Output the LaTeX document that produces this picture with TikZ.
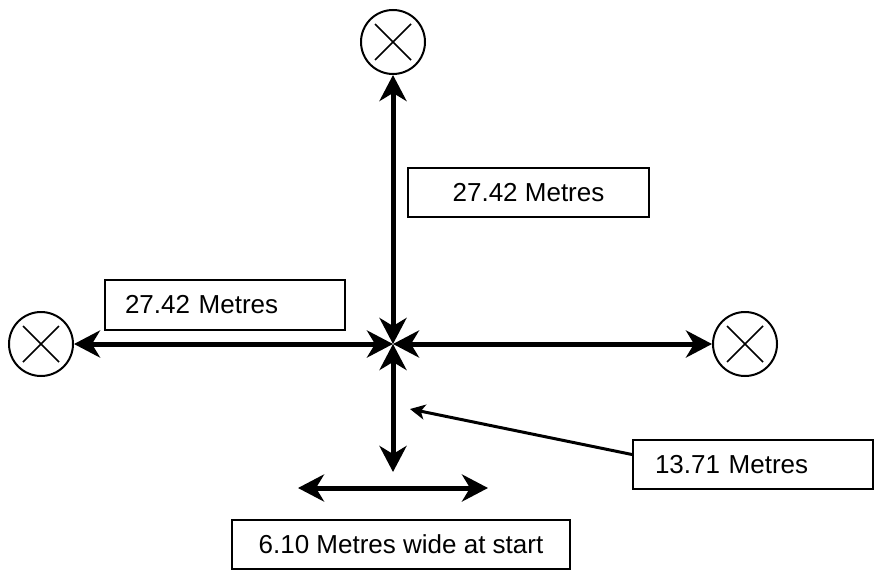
\documentclass[tikz,border=0pt]{standalone}
\usepackage{fontspec}
\setmainfont{Liberation Sans}
\usetikzlibrary{arrows.meta,calc}
\tikzset{
  target/.style={circle, draw, line width=2pt, minimum size=64pt, inner sep=0pt,
    path picture={\draw[line width=1.6pt]
      ([shift={(-18pt,-18pt)}]path picture bounding box.center) -- ([shift={(18pt,18pt)}]path picture bounding box.center)
      ([shift={(-18pt,18pt)}]path picture bounding box.center) -- ([shift={(18pt,-18pt)}]path picture bounding box.center);}},
  label box/.style={draw, line width=2pt, inner sep=0pt, minimum height=49pt,
    font=\fontsize{26pt}{31pt}\selectfont},
  bigarrow/.style={line width=5pt, {Stealth[length=26pt,width=27pt,inset=8pt]}-{Stealth[length=26pt,width=27pt,inset=8pt]}},
  pointer/.style={line width=3pt, -{Stealth[length=15pt,width=15pt,inset=4pt]}}
}
\begin{document}
\begin{tikzpicture}[x=1pt,y=-1pt]
\useasboundingbox (0,0) rectangle (874,572);
% circles
\node[target] (top) at (393,42) {};
\node[target] (left) at (41,344) {};
\node[target] (right) at (745,344) {};
\coordinate (c) at (393,344);
\coordinate (dend) at (393,472);
\coordinate (wl) at (298,488);
\coordinate (wr) at (488,488);
% boxes
\node[label box, minimum width=241pt] (btop) at (528.5,192.5) {27.42 Metres};
\node[label box, minimum width=240pt, minimum height=50pt, text width=200pt, inner xsep=20pt, align=left] (bleft) at (225,305) {27.42 Metres};
\node[label box, minimum width=240pt, text width=196pt, inner xsep=22pt, align=left] (bmid) at (753,464.5) {13.71 Metres};
\node[label box, minimum width=338pt] (bstart) at (401,544.5) {6.10 Metres wide at start};
\coordinate (ptip) at (410,409);
% arrows
\draw[bigarrow] (top) -- (c);
\draw[bigarrow] (left) -- (c);
\draw[bigarrow] (c) -- (right);
\draw[bigarrow] (c) -- (dend);
\draw[bigarrow] (wl) -- (wr);
\draw[pointer] ($(bmid.west)+(0,-10)$) -- (ptip);
\end{tikzpicture}
\end{document}
